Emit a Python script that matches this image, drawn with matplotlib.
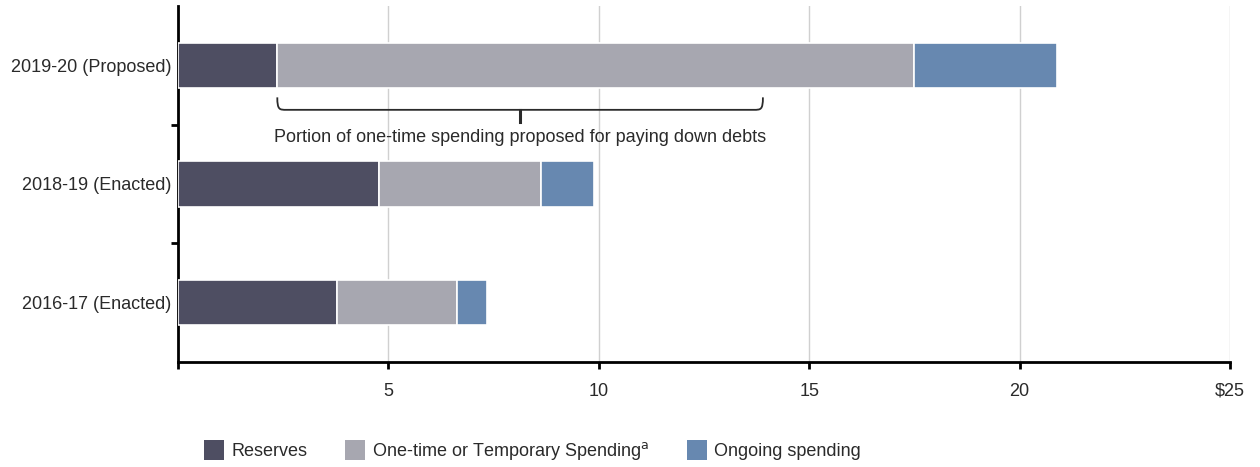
import matplotlib.pyplot as plt
import numpy as np
from matplotlib.path import Path
from matplotlib.patches import PathPatch, Patch

plt.rcParams['font.family'] = ['Liberation Sans', 'DejaVu Sans']

# Budget solutions, billions of dollars
years = ['2019-20 (Proposed)', '2018-19 (Enacted)', '2016-17 (Enacted)']
reserves = [2.35, 4.78, 3.78]
one_time = [15.14, 3.85, 2.85]
ongoing = [3.40, 1.26, 0.71]

colors = ['#4e4e62', '#a7a7b0', '#6788b0']
labels = ['Reserves', 'One-time or Temporary Spending$^{\\mathrm{a}}$', 'Ongoing spending']

# brace span for the debt paydown portion
debt_start = 2.36
debt_end = 13.90

txt = '#2a2a2a'
fs = 13

fig = plt.figure(figsize=(12.6, 4.67), dpi=100)
ax = fig.add_axes([178 / 1260, 1 - 362 / 467, (1230 - 178) / 1260, (362 - 6) / 467])

y = np.arange(len(years))
h = 0.38
left = np.zeros(len(years))
for vals, c in zip([reserves, one_time, ongoing], colors):
    ax.barh(y, vals, h, left=left, color=c, edgecolor='white', linewidth=1.2, zorder=3)
    left += np.array(vals)

ax.set_ylim(2.5, -0.5)
ax.set_xlim(0, 25)
ax.set_xticks([0, 5, 10, 15, 20, 25])
ax.set_xticklabels(['', '5', '10', '15', '20', '$25'])
ax.set_yticks(y)
ax.set_yticklabels(years)
ax.set_yticks([0.5, 1.5], minor=True)
ax.tick_params(axis='y', which='major', length=0, pad=5, labelsize=fs, labelcolor=txt)
ax.tick_params(axis='y', which='minor', length=5, width=2, direction='out')
ax.tick_params(axis='x', length=5, width=2, pad=10, labelsize=fs, labelcolor=txt)

ax.grid(axis='x', color='#d0d0d0', linewidth=1, zorder=0)
for s in ['top', 'right']:
    ax.spines[s].set_visible(False)
for s in ['left', 'bottom']:
    ax.spines[s].set_linewidth(2)

# brace under the one-time spending of the proposed budget
mid = (debt_start + debt_end) / 2
y_top, y_line, y_tick = 0.27, 0.375, 0.48
r = 0.22
verts = [
    (debt_start, y_top),
    (debt_start, y_line), (debt_start + 0.05, y_line),
    (debt_start + r, y_line),
    (debt_end - r, y_line),
    (debt_end - 0.05, y_line), (debt_end, y_line),
    (debt_end, y_top),
    (mid, y_line),
    (mid, y_tick),
]
codes = [Path.MOVETO, Path.CURVE4, Path.CURVE4, Path.CURVE4, Path.LINETO,
         Path.CURVE4, Path.CURVE4, Path.CURVE4, Path.MOVETO, Path.LINETO]
ax.add_patch(PathPatch(Path(verts, codes), facecolor='none', edgecolor=txt,
                       linewidth=1.3, zorder=4))
ax.plot([mid, mid], [y_line, y_tick], color=txt, linewidth=2.2, zorder=4)
ax.text(mid, 0.61, 'Portion of one-time spending proposed for paying down debts',
        ha='center', va='center', fontsize=fs, color=txt)

handles = [Patch(facecolor=c, edgecolor='none') for c in colors]
fig.legend(handles, labels, loc='center left', bbox_to_anchor=(204 / 1260, 1 - 451 / 467),
           ncol=3, frameon=False, fontsize=fs, handlelength=1.1, handleheight=1.3,
           handletextpad=0.4, columnspacing=2.1, borderpad=0, borderaxespad=0,
           labelcolor=txt)

fig.savefig('out.png', dpi=100)
